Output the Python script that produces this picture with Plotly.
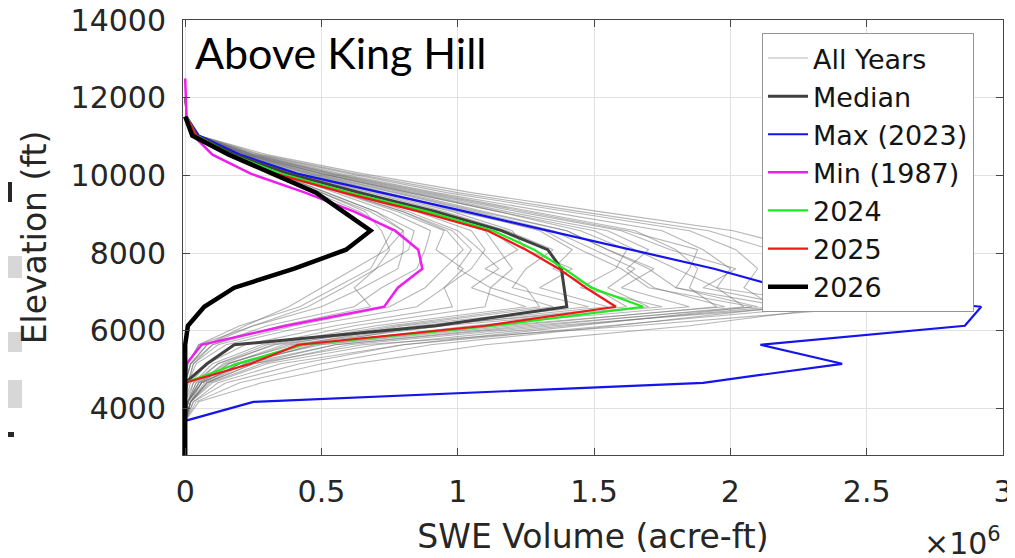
import plotly.graph_objects as go

# Elevation bands (ft)
elev = [2700, 3190, 3680, 4170, 4660, 5150, 5640, 6130, 6620, 7110, 7600,
        8090, 8580, 9070, 9560, 10050, 10540, 11030, 11520, 12010, 12500]
elev_all = elev[2:20]  # 3680 .. 12010 for the "All Years" lines

# SWE volume, units of 1e6 acre-ft
median = [None, None, None, 0, 0, 0.08, 0.18, 0.92, 1.40, 1.39, 1.38, 1.33, 1.16,
          0.92, 0.64, 0.38, 0.18, 0.04, 0.005, None, None]
max_2023 = [None, None, 0, 0.25, 1.90, 2.41, 2.11, 2.86, 2.92, 2.19, 1.94, 1.63, 1.33,
            1.03, 0.72, 0.41, 0.20, 0.05, 0.005, None, None]
min_1987 = [None, None, None, None, 0, 0.005, 0.06, 0.37, 0.73, 0.78, 0.87, 0.855, 0.77,
            0.62, 0.44, 0.24, 0.10, 0.03, 0.005, 0.002, 0]
y2024 = [None, None, None, 0, 0, 0.19, 0.43, 1.13, 1.68, 1.49, 1.39, 1.28, 1.13,
         0.89, 0.60, 0.35, 0.17, 0.04, 0.005, None, None]
y2025 = [None, None, None, 0, 0, 0.24, 0.415, 1.10, 1.58, 1.47, 1.37, 1.25, 1.11,
         0.86, 0.58, 0.33, 0.16, 0.04, 0.005, None, None]
y2026 = [0, 0, 0, 0, 0, 0, 0, 0.01, 0.07, 0.18, 0.40, 0.59, 0.68,
         0.58, 0.48, 0.32, 0.16, 0.026, 0, None, None]

all_years = [
    [0, 0.02, 0.08, 0.25, 0.65, 1.65, 2.52, 2.47, 2.40, 2.28, 2.01, 1.52, 1.05, 0.65, 0.30, 0.05, 0.005, 0],
    [0, 0.03, 0.12, 0.35, 0.80, 1.55, 2.33, 2.25, 2.20, 2.15, 1.92, 1.45, 1.00, 0.62, 0.28, 0.05, 0.005, 0],
    [0, 0.02, 0.10, 0.30, 0.70, 1.40, 2.16, 2.05, 2.10, 2.02, 1.85, 1.40, 0.96, 0.60, 0.27, 0.05, 0.005, 0],
    [0, 0.01, 0.06, 0.22, 0.55, 1.30, 2.05, 1.95, 2.00, 1.90, 1.75, 1.33, 0.92, 0.57, 0.26, 0.045, 0.005, 0],
    [0, 0.01, 0.05, 0.18, 0.50, 1.20, 1.95, 1.85, 1.88, 1.80, 1.65, 1.28, 0.90, 0.55, 0.25, 0.045, 0.004, 0],
    [0, 0.02, 0.07, 0.20, 0.45, 1.05, 1.85, 1.60, 1.72, 1.55, 1.40, 1.10, 0.80, 0.50, 0.23, 0.04, 0.004, 0],
    [0, 0.01, 0.04, 0.15, 0.40, 0.95, 1.75, 1.45, 1.58, 1.62, 1.45, 1.15, 0.82, 0.50, 0.22, 0.04, 0.004, 0],
    [0, 0.01, 0.05, 0.16, 0.38, 0.90, 1.62, 1.50, 1.35, 1.42, 1.30, 1.02, 0.74, 0.46, 0.21, 0.04, 0.004, 0],
    [0, 0.00, 0.03, 0.12, 0.33, 0.85, 1.55, 1.30, 1.42, 1.25, 1.20, 0.98, 0.70, 0.44, 0.20, 0.04, 0.004, 0],
    [0, 0.01, 0.06, 0.20, 0.42, 0.80, 1.48, 1.20, 1.25, 1.35, 1.18, 0.95, 0.68, 0.42, 0.20, 0.035, 0.003, 0],
    [0, 0.02, 0.08, 0.22, 0.47, 0.88, 1.70, 1.55, 1.65, 1.50, 1.35, 1.06, 0.76, 0.47, 0.22, 0.04, 0.004, 0],
    [0, 0.05, 0.28, 0.62, 1.10, 1.85, 2.40, 1.95, 1.80, 1.65, 1.50, 1.15, 0.82, 0.50, 0.23, 0.04, 0.004, 0],
    [0, 0.04, 0.20, 0.50, 0.90, 1.58, 2.20, 1.80, 1.70, 1.55, 1.40, 1.08, 0.78, 0.48, 0.22, 0.04, 0.004, 0],
    [0, 0.03, 0.15, 0.42, 0.80, 1.45, 2.08, 1.70, 1.60, 1.45, 1.32, 1.00, 0.72, 0.45, 0.21, 0.04, 0.004, 0],
    [0, 0, 0.01, 0.04, 0.15, 0.45, 0.85, 0.95, 1.05, 1.10, 1.05, 0.85, 0.62, 0.40, 0.19, 0.035, 0.003, 0],
    [0, 0, 0.01, 0.03, 0.12, 0.40, 0.75, 0.88, 0.95, 1.02, 0.96, 0.80, 0.58, 0.38, 0.18, 0.035, 0.003, 0],
    [0, 0, 0, 0.02, 0.10, 0.30, 0.62, 0.72, 0.85, 0.88, 0.90, 0.75, 0.55, 0.36, 0.17, 0.03, 0.003, 0],
    [0, 0, 0, 0.02, 0.08, 0.25, 0.50, 0.65, 0.78, 0.80, 0.80, 0.70, 0.52, 0.34, 0.16, 0.03, 0.003, 0],
    [0, 0, 0.01, 0.03, 0.10, 0.35, 0.68, 0.62, 0.70, 0.75, 0.72, 0.66, 0.50, 0.32, 0.15, 0.03, 0.003, 0],
    [0, 0, 0, 0.01, 0.05, 0.20, 0.42, 0.55, 0.68, 0.72, 0.76, 0.64, 0.48, 0.31, 0.15, 0.03, 0.003, 0],
    [0, 0.01, 0.04, 0.12, 0.30, 0.70, 1.25, 1.05, 1.15, 1.08, 1.00, 0.82, 0.60, 0.39, 0.18, 0.035, 0.003, 0],
    [0, 0.01, 0.03, 0.10, 0.28, 0.62, 1.10, 1.12, 1.00, 1.05, 0.98, 0.80, 0.58, 0.38, 0.18, 0.035, 0.003, 0],
    [0, 0.02, 0.06, 0.16, 0.36, 0.78, 1.35, 1.12, 1.20, 1.15, 1.10, 0.88, 0.64, 0.41, 0.19, 0.035, 0.003, 0],
    [0, 0.01, 0.05, 0.14, 0.32, 0.75, 1.30, 1.25, 1.10, 1.22, 1.12, 0.90, 0.66, 0.42, 0.20, 0.04, 0.004, 0],
    [0, 0, 0.02, 0.08, 0.22, 0.55, 0.98, 0.95, 1.02, 0.92, 0.95, 0.78, 0.57, 0.37, 0.17, 0.035, 0.003, 0],
    [0, 0.02, 0.09, 0.28, 0.60, 1.35, 2.25, 1.90, 2.02, 1.78, 1.60, 1.22, 0.86, 0.53, 0.24, 0.045, 0.004, 0],
    [0, 0.02, 0.08, 0.25, 0.55, 1.25, 2.10, 1.80, 1.85, 1.88, 1.62, 1.25, 0.88, 0.54, 0.25, 0.045, 0.004, 0],
    [0, 0.01, 0.06, 0.20, 0.48, 1.15, 1.98, 1.72, 1.62, 1.70, 1.55, 1.18, 0.84, 0.52, 0.24, 0.045, 0.004, 0],
    [0, 0, 0, 0.01, 0.05, 0.25, 0.45, 0.58, 0.70, 0.82, 0.84, 0.70, 0.52, 0.33, 0.16, 0.03, 0.003, 0],
    [0, 0, 0, 0.02, 0.08, 0.22, 0.38, 0.50, 0.62, 0.74, 0.80, 0.68, 0.50, 0.32, 0.15, 0.03, 0.003, 0],
]

x_tickvals = [0, 0.5, 1, 1.5, 2, 2.5, 3]
x_ticktext = ["0", "0.5", "1", "1.5", "2", "2.5", "3"]
y_tickvals = [4000, 6000, 8000, 10000, 12000, 14000]
y_ticktext = ["4000", "6000", "8000", "10000", "12000", "14000"]

FONT = "DejaVu Sans"
TXT = "rgb(38,38,38)"
AX = "rgb(70,70,70)"

fig = go.Figure()

for i, row in enumerate(all_years):
    fig.add_trace(go.Scatter(
        x=row, y=elev_all, mode="lines", name="All Years",
        line=dict(color="rgba(110,110,110,0.5)", width=1.1),
        showlegend=(i == 0), legendrank=1, hoverinfo="skip"))

fig.add_trace(go.Scatter(x=max_2023, y=elev, mode="lines", name="Max (2023)",
                         line=dict(color="rgb(20,20,235)", width=2.2), legendrank=3))
fig.add_trace(go.Scatter(x=min_1987, y=elev, mode="lines", name="Min (1987)",
                         line=dict(color="rgb(238,30,238)", width=2.5), legendrank=4))
fig.add_trace(go.Scatter(x=median, y=elev, mode="lines", name="Median",
                         line=dict(color="rgb(64,64,64)", width=3), legendrank=2))
fig.add_trace(go.Scatter(x=y2024, y=elev, mode="lines", name="2024",
                         line=dict(color="rgb(30,235,30)", width=2.2), legendrank=5))
fig.add_trace(go.Scatter(x=y2025, y=elev, mode="lines", name="2025",
                         line=dict(color="rgb(235,25,25)", width=2.2), legendrank=6))
fig.add_trace(go.Scatter(x=y2026, y=elev, mode="lines", name="2026",
                         line=dict(color="black", width=4.5), legendrank=7))

axis_common = dict(
    showgrid=True, gridcolor="rgb(225,225,225)", gridwidth=1,
    zeroline=False, showline=True, linecolor=AX, linewidth=1,
    mirror="ticks", ticks="inside", ticklen=7, tickcolor=AX,
    tickfont=dict(family=FONT, size=30, color=TXT), automargin=False,
    ticklabeloverflow="allow",
)

fig.update_xaxes(range=[-0.008, 3], tickvals=x_tickvals, ticktext=x_ticktext,
                 ticklabelstandoff=10,
                 title=dict(text="SWE Volume (acre-ft)", standoff=16,
                            font=dict(family=FONT, size=33, color=TXT)),
                 **axis_common)
fig.update_yaxes(range=[2800, 14008], tickvals=y_tickvals, ticktext=y_ticktext,
                 ticklabelstandoff=10,
                 title=dict(text="Elevation (ft)", standoff=14,
                            font=dict(family=FONT, size=33, color=TXT)),
                 **axis_common)

# the page body adds an 8 px offset; margins are set so that the
# plot area lands at screen x 183..1003, y 20..455
OFF = 8
SX0, SX1, SY0, SY1 = 183, 1003, 20, 455
W, H = 1015, 558
L, T = SX0 - OFF, SY0 - OFF
R, B = W - (SX1 - OFF), H - (SY1 - OFF)
PW, PH = SX1 - SX0, SY1 - SY0


def px(xp):
    return (xp - SX0) / PW


def py(yp):
    return (SY1 - yp) / PH


fig.add_annotation(text="Above King Hill", xref="paper", yref="paper",
                   x=px(193), y=py(52), xanchor="left", yanchor="middle",
                   showarrow=False, font=dict(family="Lato", size=43, color="black"))
fig.add_annotation(text="×10<sup>6</sup>", xref="paper", yref="paper",
                   x=1.0, y=py(541), xanchor="right", yanchor="middle",
                   showarrow=False, font=dict(family=FONT, size=30, color=TXT))

# cropped fragments of the neighbouring panel at the far left edge
frags = [
    (8, 182, 12, 202, "rgb(40,40,40)"),
    (0, 256, 22, 278, "rgb(215,215,215)"),
    (0, 332, 22, 352, "rgb(215,215,215)"),
    (0, 380, 22, 408, "rgb(215,215,215)"),
    (0, 432, 14, 437, "rgb(40,40,40)"),
]
for x0, y0, x1, y1, c in frags:
    fig.add_shape(type="rect", xref="paper", yref="paper",
                  x0=px(x0), x1=px(x1), y0=py(y1), y1=py(y0),
                  line=dict(width=0), fillcolor=c)

fig.update_layout(
    width=W, height=H,
    margin=dict(l=L, r=R, t=T, b=B, autoexpand=False),
    plot_bgcolor="white", paper_bgcolor="white",
    legend=dict(x=px(762), y=py(33), xanchor="left", yanchor="top",
                bgcolor="white", bordercolor="rgb(150,150,150)", borderwidth=1,
                font=dict(family=FONT, size=27, color="rgb(20,20,20)"),
                tracegroupgap=0, itemwidth=40),
    showlegend=True,
)

fig.write_html("out.html")
